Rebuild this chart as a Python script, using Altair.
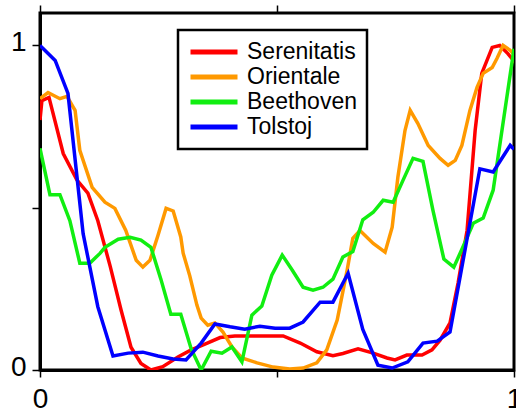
import altair as alt
import pandas as pd

# Normalised profiles of four lunar basins, x and y both scaled to [0, 1]
series_names = ["Serenitatis", "Orientale", "Beethoven", "Tolstoj"]
series_colors = ["#ff0000", "#ff9900", "#11ee11", "#0000ff"]

serenitatis_x = [0.000, 0.004, 0.019, 0.049, 0.078, 0.101, 0.122, 0.148, 0.171, 0.192,
                 0.213, 0.234, 0.259, 0.291, 0.319, 0.348, 0.380, 0.411, 0.513, 0.549,
                 0.584, 0.618, 0.639, 0.671, 0.703, 0.732, 0.749, 0.774, 0.806, 0.827,
                 0.844, 0.865, 0.882, 0.901, 0.918, 0.932, 0.954, 0.970, 0.987, 1.002]
serenitatis_y = [0.770, 0.830, 0.840, 0.667, 0.585, 0.545, 0.460, 0.320, 0.185, 0.070,
                 0.020, 0.000, 0.010, 0.040, 0.062, 0.080, 0.100, 0.105, 0.105, 0.083,
                 0.056, 0.044, 0.051, 0.065, 0.052, 0.037, 0.031, 0.046, 0.046, 0.062,
                 0.092, 0.145, 0.268, 0.430, 0.738, 0.914, 0.994, 1.000, 0.975, 0.948]

orientale_x = [0.000, 0.017, 0.042, 0.057, 0.070, 0.074, 0.084, 0.110, 0.137, 0.158,
               0.181, 0.203, 0.217, 0.232, 0.249, 0.266, 0.281, 0.297, 0.302, 0.316,
               0.331, 0.340, 0.354, 0.369, 0.386, 0.405, 0.426, 0.458, 0.492, 0.527,
               0.555, 0.584, 0.605, 0.627, 0.648, 0.660, 0.675, 0.703, 0.728, 0.743,
               0.755, 0.770, 0.781, 0.797, 0.819, 0.844, 0.861, 0.876, 0.890, 0.907,
               0.922, 0.935, 0.954, 0.964, 0.977, 0.992, 1.002]
orientale_y = [0.836, 0.855, 0.836, 0.843, 0.810, 0.800, 0.677, 0.563, 0.517, 0.498,
               0.430, 0.338, 0.317, 0.338, 0.415, 0.498, 0.490, 0.410, 0.360, 0.290,
               0.200, 0.160, 0.138, 0.145, 0.117, 0.071, 0.037, 0.022, 0.009, 0.003,
               0.006, 0.022, 0.062, 0.154, 0.308, 0.406, 0.430, 0.390, 0.363, 0.440,
               0.594, 0.738, 0.800, 0.760, 0.692, 0.652, 0.631, 0.646, 0.692, 0.800,
               0.871, 0.914, 0.932, 0.960, 1.000, 0.985, 0.969]

beethoven_x = [0.000, 0.021, 0.042, 0.063, 0.084, 0.105, 0.127, 0.137, 0.165, 0.190,
               0.213, 0.234, 0.255, 0.276, 0.297, 0.319, 0.340, 0.361, 0.384, 0.405,
               0.426, 0.447, 0.468, 0.489, 0.511, 0.532, 0.555, 0.576, 0.597, 0.618,
               0.639, 0.660, 0.681, 0.703, 0.724, 0.745, 0.766, 0.787, 0.808, 0.829,
               0.852, 0.873, 0.892, 0.914, 0.935, 0.956, 1.000]
beethoven_y = [0.683, 0.540, 0.540, 0.460, 0.329, 0.329, 0.360, 0.378, 0.403, 0.409,
               0.400, 0.378, 0.280, 0.172, 0.172, 0.065, 0.000, 0.058, 0.052, 0.071,
               0.025, 0.169, 0.197, 0.292, 0.354, 0.308, 0.255, 0.246, 0.255, 0.280,
               0.348, 0.365, 0.463, 0.486, 0.523, 0.517, 0.585, 0.652, 0.643, 0.492,
               0.342, 0.317, 0.378, 0.452, 0.468, 0.554, 0.990]

tolstoj_x = [0.000, 0.032, 0.059, 0.091, 0.122, 0.154, 0.186, 0.217, 0.249, 0.281,
             0.308, 0.340, 0.369, 0.401, 0.432, 0.464, 0.496, 0.527, 0.555, 0.591,
             0.618, 0.650, 0.681, 0.713, 0.743, 0.776, 0.808, 0.838, 0.865, 0.928,
             0.956, 0.992, 1.000]
tolstoj_y = [1.000, 0.954, 0.852, 0.420, 0.195, 0.043, 0.052, 0.055, 0.043, 0.034,
             0.031, 0.083, 0.142, 0.133, 0.126, 0.135, 0.129, 0.129, 0.148, 0.209,
             0.209, 0.298, 0.125, 0.015, 0.006, 0.025, 0.083, 0.089, 0.117, 0.620,
             0.610, 0.692, 0.680]

tick_values = [0, 0.5, 1]

frames = []
for name, xs, ys in [
    ("Serenitatis", serenitatis_x, serenitatis_y),
    ("Orientale", orientale_x, orientale_y),
    ("Beethoven", beethoven_x, beethoven_y),
    ("Tolstoj", tolstoj_x, tolstoj_y),
]:
    frames.append(pd.DataFrame({"x": xs, "y": ys, "basin": name}))
data = pd.concat(frames, ignore_index=True)

FONT = "Liberation Sans"
label_expr = "datum.value == 0.5 ? '' : toString(datum.value)"

x_scale = alt.Scale(domain=[0, 1], nice=False, zero=False)
y_scale = alt.Scale(domain=[0, 1.1], nice=False)

color = alt.Color(
    "basin:N",
    scale=alt.Scale(domain=series_names, range=series_colors),
    legend=alt.Legend(
        title=None,
        orient="none",
        legendX=138,
        legendY=17,
        symbolType="stroke",
        symbolSize=2209,
        symbolStrokeWidth=5,
        labelFontSize=23,
        labelFont=FONT,
        labelColor="black",
        labelOffset=7,
        clipHeight=24,
        rowPadding=1,
        padding=10,
        strokeColor="black",
        fillColor="white",
        cornerRadius=0,
    ),
)

lines = alt.Chart(data).mark_line(strokeWidth=3.5, clip=True).encode(
    x=alt.X(
        "x:Q",
        scale=x_scale,
        axis=alt.Axis(
            values=tick_values, labelExpr=label_expr, title=None, grid=False,
            labelFlush=False, labelOverlap=False, tickSize=7, labelPadding=8,
            orient="bottom",
        ),
    ),
    y=alt.Y(
        "y:Q",
        scale=y_scale,
        axis=alt.Axis(
            values=tick_values, labelExpr=label_expr, title=None, grid=False,
            tickSize=8, labelPadding=6, labelOffset=-3,
        ),
    ),
    color=color,
    detail="basin:N",
)

# mirrored tick marks along the top edge
top_ticks = alt.Chart(data).mark_line(opacity=0).encode(
    x=alt.X(
        "x:Q",
        scale=x_scale,
        axis=alt.Axis(
            values=tick_values, labels=False, title=None, grid=False,
            tickSize=8, orient="top", domain=False,
        ),
    ),
    y=alt.Y("y:Q", scale=y_scale),
    detail="basin:N",
)

chart = (
    alt.layer(lines, top_ticks)
    .resolve_axis(x="independent")
    .properties(
        width=474,
        height=357,
        autosize=alt.AutoSizeParams(type="none"),
        padding={"left": 40, "top": 13, "right": 2, "bottom": 42},
        background="white",
    )
    .configure_view(stroke="black", strokeWidth=3)
    .configure_axis(
        domainColor="black",
        domainWidth=3,
        tickColor="black",
        tickWidth=1.5,
        labelFont=FONT,
        labelFontSize=28,
        labelColor="black",
    )
    .configure_legend(strokeWidth=2.5)
)

chart.save("out.html", embed_options={"renderer": "svg", "actions": False})
